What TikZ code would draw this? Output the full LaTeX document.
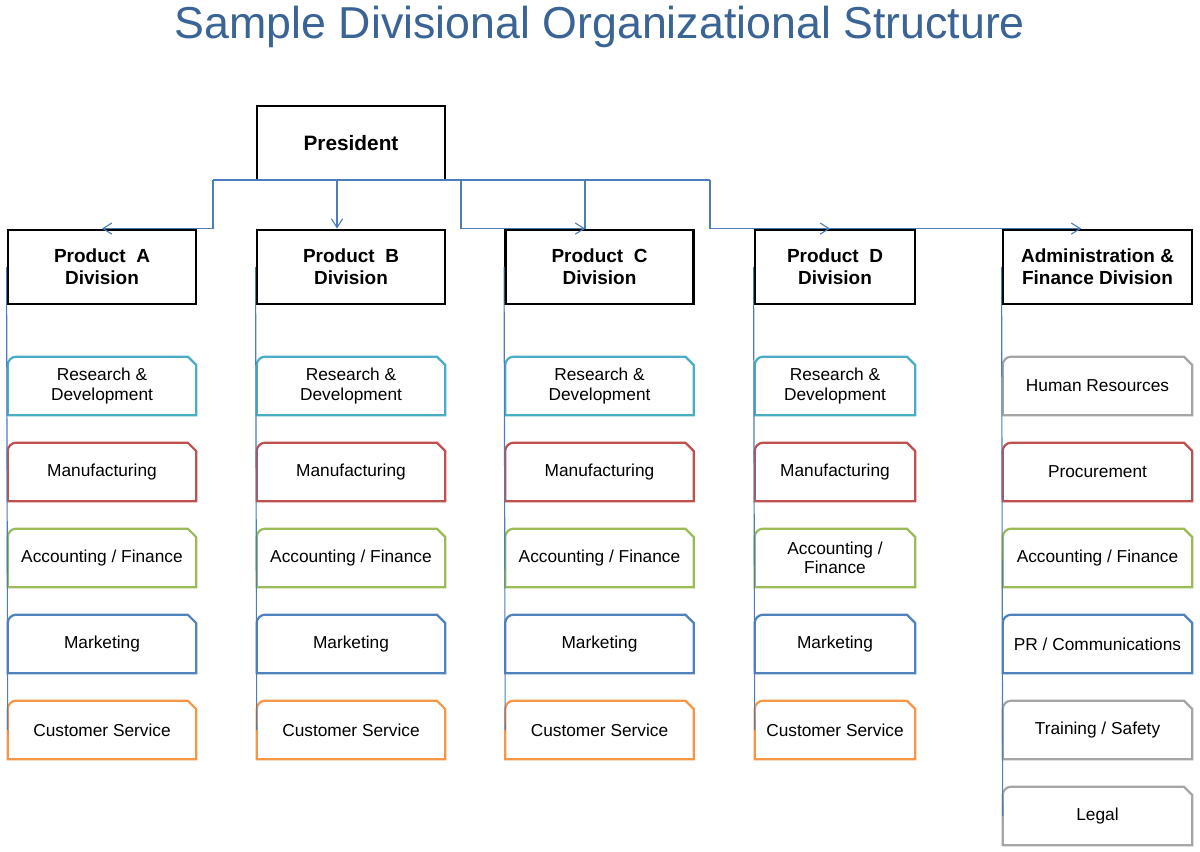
\documentclass[tikz,border=0pt]{standalone}
\usepackage{fontspec}
\setmainfont{Liberation Sans}
\usepackage{xcolor}
\usepackage{tikz}
\usetikzlibrary{arrows.meta}

\definecolor{titleblue}{HTML}{3A6396}
\definecolor{linkblue}{HTML}{4A7EBB}
\definecolor{rdcol}{HTML}{4BACC6}
\definecolor{mfcol}{HTML}{C0504D}
\definecolor{accol}{HTML}{9BBB59}
\definecolor{mkcol}{HTML}{4F81BD}
\definecolor{cscol}{HTML}{F79646}
\definecolor{grcol}{HTML}{A5A5A5}

% unit box: rounded top left, cut top right
\newcommand{\unitbox}[5]{%
  \node[unit, minimum width=#3] (#1) at #2 {#5};
  \draw[unitline, draw=#4] (#1.south west) -- ([yshift=-6pt]#1.north west)
    arc[start angle=180, end angle=90, radius=6pt] -- ([xshift=-6pt]#1.north east)
    -- ([yshift=-6pt]#1.north east) -- (#1.south east) -- cycle;
}

\begin{document}
\begin{tikzpicture}[
  x=0.025cm, y=-0.025cm,
  title/.style={font=\fontsize{31.8}{36}\selectfont, text=titleblue},
  head/.style={draw=black, line width=2pt, align=center, inner sep=0pt,
    minimum width=4.7cm, minimum height=1.85cm, font=\fontsize{13.5}{15.5}\selectfont\bfseries},
  unit/.style={align=center, inner sep=0pt, minimum height=1.45cm,
    font=\fontsize{12.3}{13.6}\selectfont},
  unitline/.style={line width=1.6pt},
  link/.style={draw=linkblue, line width=0.8pt},
  tip/.style={-{Straight Barb[length=2.2mm, width=2.8mm]}}
]
\useasboundingbox (0,0) rectangle (1200,852);

\node[title] (title) at (600,27) {Sample Divisional Organizational Structure};

\node[head, font=\fontsize{14.8}{17}\selectfont\bfseries] (pres) at (351,143) {President};

% product divisions
\foreach \col/\cx/\w/\acc in {A/102/4.7/{Accounting / Finance}, B/351/4.7/{Accounting / Finance},
    C/599.5/4.7/{Accounting / Finance}, D/835/4.0/{Accounting /\\Finance}} {
  \node[head, minimum width=\w cm] (div\col) at (\cx,267) {Product~~\col\\Division};
  \unitbox{rd\col}{(\cx,386)}{\w cm}{rdcol}{Research \&\\Development}
  \unitbox{mf\col}{(\cx,472)}{\w cm}{mfcol}{Manufacturing}
  \unitbox{ac\col}{(\cx,558)}{\w cm}{accol}{\acc}
  \unitbox{mk\col}{(\cx,644)}{\w cm}{mkcol}{Marketing}
  \unitbox{cs\col}{(\cx,730)}{\w cm}{cscol}{Customer Service}
  \draw[link] (div\col.west) -- (cs\col.west);
}

% administration & finance
\node[head, minimum width=4.725cm] (divAd) at (1097.5,267) {Administration \&\\Finance Division};
\unitbox{hr}{(1097.5,386)}{4.725cm}{grcol}{Human Resources}
\unitbox{proc}{(1097.5,472)}{4.725cm}{mfcol}{Procurement}
\unitbox{acAd}{(1097.5,558)}{4.725cm}{accol}{Accounting / Finance}
\unitbox{pr}{(1097.5,644)}{4.725cm}{mkcol}{PR / Communications}
\unitbox{train}{(1097.5,730)}{4.725cm}{grcol}{Training / Safety}
\unitbox{legal}{(1097.5,816)}{4.725cm}{grcol}{Legal}
\draw[link] (divAd.west) -- (legal.west);

% connectors from the president
\coordinate (busL) at (213,180);
\coordinate (busR) at (710,180);
\coordinate (jB) at (337,180);
\coordinate (jC) at (461,180);
\coordinate (jC2) at (585,180);
\draw[link] (busL) -- (busR);
\draw[link, tip] (busL) |- (divA.north);
\draw[link, tip] (jB) -- (jB |- divB.north);
\draw[link, tip] (jC) |- ([xshift=-0.36cm]divC.north);
\draw[link] (jC2) -- (jC2 |- divC.north);
\draw[link, tip] (busR) |- ([xshift=-0.125cm]divD.north);
\draw[link, tip] ([xshift=-0.125cm]divD.north) -- ([xshift=-0.41cm]divAd.north);
\end{tikzpicture}
\end{document}
